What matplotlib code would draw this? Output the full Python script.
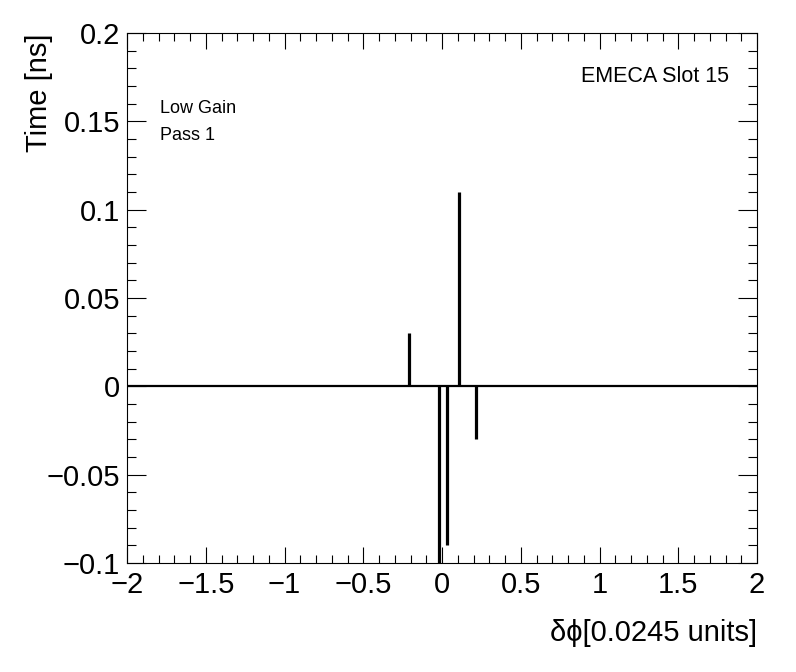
import numpy as np
import matplotlib
matplotlib.use("Agg")
import matplotlib.pyplot as plt
from matplotlib.ticker import MultipleLocator

plt.rcParams['font.family'] = ['Liberation Sans', 'DejaVu Sans']

# delta phi of each filled bin and its time offset
dphi = [-0.21, -0.02, 0.03, 0.11, 0.215]
tdiff = [0.030, -0.120, -0.090, 0.110, -0.030]

xlim = (-2, 2)
ylim = (-0.1, 0.2)

fig = plt.figure(figsize=(7.96, 6.72), dpi=100)
ax = fig.add_axes([127/796, 1-563/672, 630/796, 530/672])

ax.axhline(0, color='black', lw=1.6, zorder=2)
ax.vlines(dphi, 0, tdiff, color='black', lw=2.3, zorder=3)

ax.set_xlim(*xlim)
ax.set_ylim(*ylim)

ax.xaxis.set_major_locator(MultipleLocator(0.5))
ax.xaxis.set_minor_locator(MultipleLocator(0.1))
ax.yaxis.set_major_locator(MultipleLocator(0.05))
ax.yaxis.set_minor_locator(MultipleLocator(0.01))
ax.xaxis.set_major_formatter(plt.FuncFormatter(lambda v, p: ('%g' % v).replace('-', '\u2212')))
ax.yaxis.set_major_formatter(plt.FuncFormatter(lambda v, p: ('%g' % round(v, 3)).replace('-', '\u2212')))

ax.tick_params(which='both', direction='in', top=True, right=True, width=0.8)
ax.tick_params(axis='x', which='major', length=11.5, labelsize=21, pad=6)
ax.tick_params(axis='x', which='minor', length=5.8)
ax.tick_params(axis='y', which='major', length=13.7, labelsize=21, pad=5)
ax.tick_params(axis='y', which='minor', length=6.7)
for s in ax.spines.values():
    s.set_linewidth(0.8)

ax.set_xlabel('\u03b4\u03d5[0.0245 units]', fontsize=21, loc='right', labelpad=14)
ax.set_ylabel('Time [ns]', fontsize=21, loc='top')
ax.yaxis.set_label_coords(-0.118, 1.0)

ax.text(160/796, 1-113/672, 'Low Gain', transform=fig.transFigure, fontsize=13)
ax.text(160/796, 1-140/672, 'Pass 1', transform=fig.transFigure, fontsize=13)
ax.text(729/796, 1-82/672, 'EMECA Slot 15', transform=fig.transFigure, fontsize=15.5, ha='right')

fig.savefig('out.png', dpi=100)
